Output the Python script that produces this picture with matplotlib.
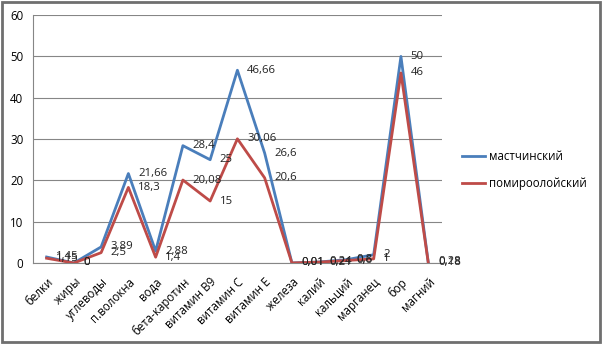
import matplotlib.pyplot as plt
from matplotlib.patches import Rectangle

categories = ['белки', 'жиры', 'углеводы', 'п.волокна', 'вода', 'бета-каротин',
              'витамин В9', 'витамин С', 'витамин Е', 'железа', 'калий',
              'кальций', 'марганец', 'бор', 'магний']
mastchin = [1.45, 0, 3.89, 21.66, 2.88, 28.4, 25, 46.66, 26.6, 0.01, 0.24, 0.8, 2, 50, 0.28]
pomir = [1.15, 0, 2.5, 18.3, 1.4, 20.08, 15, 30.06, 20.6, 0.01, 0.21, 0.6, 1, 46, 0.18]
labels_m = ['1,45', '0', '3,89', '21,66', '2,88', '28,4', '25', '46,66', '26,6',
            '0,01', '0,24', '0,8', '2', '50', '0,28']
labels_p = ['1,15', '0', '2,5', '18,3', '1,4', '20,08', '15', '30,06', '20,6',
            '0,01', '0,21', '0,6', '1', '46', '0,18']

plt.rcParams['font.family'] = ['Open Sans', 'DejaVu Sans']

fig = plt.figure(figsize=(6.03, 3.44), dpi=100)
ax = fig.add_axes([0.0547, 0.2355, 0.678, 0.7205])

x = list(range(len(categories)))
ax.plot(x, mastchin, color='#4A7EBB', lw=2, label='мастчинский', zorder=3)
ax.plot(x, pomir, color='#BE4B48', lw=2, label='помироолойский', zorder=3)

for i in x:
    ax.annotate(labels_m[i], (i, mastchin[i]), xytext=(7, 0), textcoords='offset points',
                ha='left', va='center', fontsize=8.2, color='#222222')
    ax.annotate(labels_p[i], (i, pomir[i]), xytext=(7, 0), textcoords='offset points',
                ha='left', va='center', fontsize=8.2, color='#222222')

ax.set_xlim(-0.5, len(categories) - 0.5)
ax.set_ylim(0, 60)
ax.set_yticks(range(0, 61, 10))
ax.yaxis.grid(True, color='#868686', lw=0.8)
ax.set_axisbelow(True)
ax.set_xticks(x)
ax.set_xticklabels(categories, rotation=45, ha='right', rotation_mode='anchor', fontsize=8.3)
for lab in ax.get_xticklabels():
    lab.set_x(0)
ax.tick_params(axis='y', labelsize=8.3, length=0, pad=7)
ax.tick_params(axis='x', length=0, pad=9)
for s in ['top', 'right']:
    ax.spines[s].set_visible(False)
ax.spines['left'].set_color('#868686')
ax.spines['bottom'].set_color('#868686')

ax.legend(loc='center left', bbox_to_anchor=(1.025, 0.375), frameon=False, fontsize=8.3,
          handlelength=2.0, handletextpad=0.3, labelspacing=1.2)

fig.patches.append(Rectangle((0.003, 0.006), 0.992, 0.988, transform=fig.transFigure,
                             fill=False, edgecolor='#6f6f6f', lw=2))

fig.savefig('out.png', dpi=100)
